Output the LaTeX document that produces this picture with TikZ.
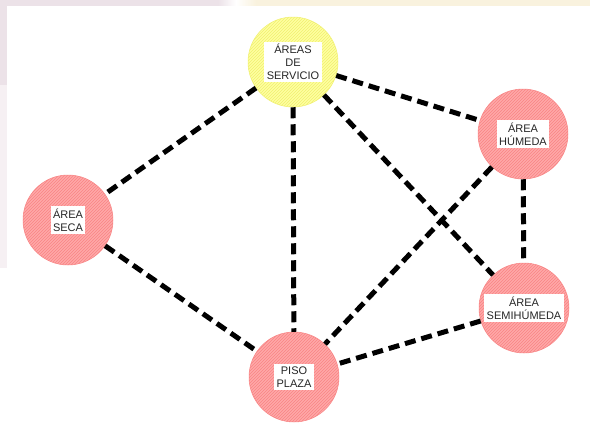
\documentclass[tikz,border=0pt]{standalone}
\usepackage{fontspec}
\setmainfont{Liberation Sans}
\usetikzlibrary{patterns}

\definecolor{zonepink}{RGB}{255,168,168}
\definecolor{zonepinkline}{RGB}{248,132,132}
\definecolor{zoneyellow}{RGB}{255,255,160}
\definecolor{zoneyellowline}{RGB}{240,240,112}
\definecolor{bglilac}{RGB}{236,226,232}
\definecolor{bglilacpale}{RGB}{246,240,243}
\definecolor{bgcream}{RGB}{249,242,222}

\begin{document}
\begin{tikzpicture}[x=1pt, y=-1pt,
		zone/.style 2 args={circle, minimum size=90pt, inner sep=0pt, draw=#2, line width=0.5pt, fill=#1, postaction={pattern=north east lines, pattern color=#2}},
		tag/.style={fill=white, inner sep=2.5pt, align=center, text=black!85, font=\fontsize{11}{13}\selectfont},
		link/.style={line width=5pt, dash pattern=on 11pt off 6pt}]
			\useasboundingbox (0,0) rectangle (590,429);
			% Background strips:
			\fill[bglilac] (0,0) rectangle (218,5.5);
			\shade[left color=bglilac, right color=white] (218,0) rectangle (236,5.5);
			\shade[left color=white, right color=bgcream] (236,0) rectangle (256,5.5);
			\fill[bgcream] (256,0) rectangle (590,5.5);
			\fill[bglilac] (0,0) rectangle (7,85);
			\fill[bglilacpale] (0,85) rectangle (7,268);
			% Zones and labels:
			\node[zone={zoneyellow}{zoneyellowline}] (serv) at (293,62) {};
			\node[tag] (servtxt) at (serv) {ÁREAS\\DE\\SERVICIO};
			\node[zone={zonepink}{zonepinkline}] (seca) at (68,220) {};
			\node[tag] (secatxt) at (seca) {ÁREA\\SECA};
			\node[zone={zonepink}{zonepinkline}] (humeda) at (523,134) {};
			\node[tag] (humedatxt) at (humeda) {ÁREA\\HÚMEDA};
			\node[zone={zonepink}{zonepinkline}] (semi) at (524,308) {};
			\node[tag] (semitxt) at (semi) {ÁREA\\SEMIHÚMEDA};
			\node[zone={zonepink}{zonepinkline}] (piso) at (294,377) {};
			\node[tag] (pisotxt) at (piso) {PISO\\PLAZA};
			% Links:
			\draw[link] (serv) -- (seca);
			\draw[link] (serv) -- (humeda);
			\draw[link] (serv) -- (piso);
			\draw[link] (serv) -- (semi);
			\draw[link] (seca) -- (piso);
			\draw[link] (humeda) -- (semi);
			\draw[link] (humeda) -- (piso);
			\draw[link] (semi) -- (piso);
		\end{tikzpicture}
\end{document}
